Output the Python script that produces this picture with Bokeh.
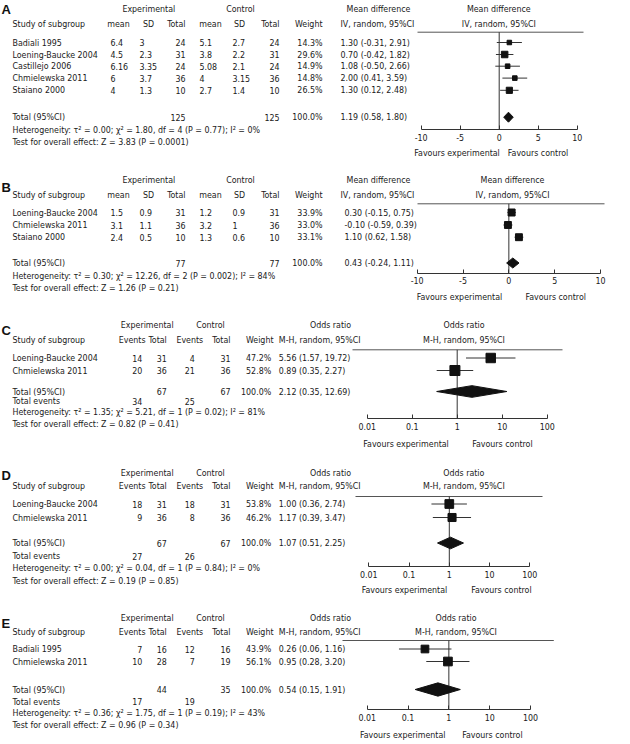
import math
from bokeh.plotting import figure
from bokeh.models import (Range1d, LinearAxis, LogAxis, LogScale, FixedTicker,
                          CustomJSTickFormatter, ColumnDataSource)
from bokeh.core.properties import value
from bokeh.embed import file_html
from bokeh.resources import INLINE

# ======================= DATA =======================
# Panel A - mean difference
A_studies = ["Badiali 1995", "Loening-Baucke 2004", "Castillejo 2006", "Chmielewska 2011", "Staiano 2000"]
A_exp_mean = [6.4, 4.5, 6.16, 6, 4]
A_exp_sd = [3, 2.3, 3.35, 3.7, 1.3]
A_exp_n = [24, 31, 24, 36, 10]
A_ctl_mean = [5.1, 3.8, 5.08, 4, 2.7]
A_ctl_sd = [2.7, 2.2, 2.1, 3.15, 1.4]
A_ctl_n = [24, 31, 24, 36, 10]
A_weight = [14.3, 29.6, 14.9, 14.8, 26.5]
A_est = [1.30, 0.70, 1.08, 2.00, 1.30]
A_lo = [-0.31, -0.42, -0.50, 0.41, 0.12]
A_hi = [2.91, 1.82, 2.66, 3.59, 2.48]
A_total = [1.19, 0.58, 1.80]
A_het = "Heterogeneity: τ² = 0.00; χ² = 1.80, df = 4 (P = 0.77); I² = 0%"
A_test = "Test for overall effect: Z = 3.83 (P = 0.0001)"

# Panel B - mean difference
B_studies = ["Loening-Baucke 2004", "Chmielewska 2011", "Staiano 2000"]
B_exp_mean = [1.5, 3.1, 2.4]
B_exp_sd = [0.9, 1.1, 0.5]
B_exp_n = [31, 36, 10]
B_ctl_mean = [1.2, 3.2, 1.3]
B_ctl_sd = [0.9, 1, 0.6]
B_ctl_n = [31, 36, 10]
B_weight = [33.9, 33.0, 33.1]
B_est = [0.30, -0.10, 1.10]
B_lo = [-0.15, -0.59, 0.62]
B_hi = [0.75, 0.39, 1.58]
B_total = [0.43, -0.24, 1.11]
B_het = "Heterogeneity: τ² = 0.30; χ² = 12.26, df = 2 (P = 0.002); I² = 84%"
B_test = "Test for overall effect: Z = 1.26 (P = 0.21)"

MD_ticks = [-10, -5, 0, 5, 10]

# Panel C - odds ratio
C_studies = ["Loening-Baucke 2004", "Chmielewska 2011"]
C_exp_events = [14, 20]
C_exp_n = [31, 36]
C_ctl_events = [4, 21]
C_ctl_n = [31, 36]
C_weight = [47.2, 52.8]
C_est = [5.56, 0.89]
C_lo = [1.57, 0.35]
C_hi = [19.72, 2.27]
C_total = [2.12, 0.35, 12.69]
C_het = "Heterogeneity: τ² = 1.35; χ² = 5.21, df = 1 (P = 0.02); I² = 81%"
C_test = "Test for overall effect: Z = 0.82 (P = 0.41)"

# Panel D - odds ratio
D_studies = ["Loening-Baucke 2004", "Chmielewska 2011"]
D_exp_events = [18, 9]
D_exp_n = [31, 36]
D_ctl_events = [18, 8]
D_ctl_n = [31, 36]
D_weight = [53.8, 46.2]
D_est = [1.00, 1.17]
D_lo = [0.36, 0.39]
D_hi = [2.74, 3.47]
D_total = [1.07, 0.51, 2.25]
D_het = "Heterogeneity: τ² = 0.00; χ² = 0.04, df = 1 (P = 0.84); I² = 0%"
D_test = "Test for overall effect: Z = 0.19 (P = 0.85)"

# Panel E - odds ratio
E_studies = ["Badiali 1995", "Chmielewska 2011"]
E_exp_events = [7, 10]
E_exp_n = [16, 28]
E_ctl_events = [12, 7]
E_ctl_n = [16, 19]
E_weight = [43.9, 56.1]
E_est = [0.26, 0.95]
E_lo = [0.06, 0.28]
E_hi = [1.16, 3.20]
E_total = [0.54, 0.15, 1.91]
E_het = "Heterogeneity: τ² = 0.36; χ² = 1.75, df = 1 (P = 0.19); I² = 43%"
E_test = "Test for overall effect: Z = 0.96 (P = 0.34)"

OR_ticks = [0.01, 0.1, 1, 10, 100]
TOTAL_WEIGHT = 100.0

# ======================= STYLE / LAYOUT =======================
FONT_NAME = "DejaVu Sans Condensed"
FONT = value(FONT_NAME)
FS = "8.8px"
INK = "#1a1a1a"
LINE = "#333333"

W, H = 630, 744
X0, X1 = 0, W          # layout frame in pixels (horizontal)
Y_TOP, Y_BOT = 0, H    # layout frame in pixels (vertical)

p = figure(width=W, height=H, output_backend="svg", toolbar_location=None,
           x_range=Range1d(X0, X1), y_range=Range1d(Y_BOT, Y_TOP),
           x_axis_type=None, y_axis_type=None, min_border=0,
           outline_line_color=None, background_fill_color="white",
           border_fill_color="white")

groups = {}


def put(x, y, s, align="left", kind="body"):
    g = groups.setdefault((align, kind), {"x": [], "y": [], "t": []})
    g["x"].append(x)
    g["y"].append(y)
    g["t"].append(str(s))


def add_range(name, lo, hi, px_lo, px_hi, log):
    a, b = (math.log10(lo), math.log10(hi)) if log else (lo, hi)
    k = (b - a) / (px_hi - px_lo)
    s = a - (px_lo - X0) * k
    e = a + (X1 - px_lo) * k
    if log:
        s, e = 10 ** s, 10 ** e
        p.extra_x_scales[name] = LogScale()
    p.extra_x_ranges[name] = Range1d(s, e)


def ci_txt(e, l, h):
    return f"{e:.2f} ({l:.2f}, {h:.2f})"


def forest(name, L, rows, weights, est, lo, hi, total, ticks, log, null):
    add_range(name, ticks[0], ticks[-1], L["px"][0], L["px"][1], log)
    # header rule and null line
    p.segment(x0=[L["rule_x"][0]], x1=[L["rule_x"][1]], y0=[L["rule_y"]], y1=[L["rule_y"]],
              line_color="#555555", line_width=1)
    p.segment(x0=[null], x1=[null], y0=[L["rule_y"]], y1=[L["axis_y"]],
              x_range_name=name, line_color=LINE, line_width=1)
    # CIs
    p.segment(x0=lo, x1=hi, y0=rows, y1=rows, x_range_name=name,
              line_color=LINE, line_width=1)
    wmax = max(weights)
    sizes = [L["sq"] * math.sqrt(w / wmax) for w in weights]
    p.scatter(x=est, y=rows, size=sizes, marker="square", x_range_name=name,
              fill_color="#111111", line_color="#111111")
    t, tl, th = total
    ty, h = L["total_y"], L["dia_h"]
    p.patch(x=[tl, t, th, t], y=[ty, ty - h / 2, ty, ty + h / 2], x_range_name=name,
            fill_color="#111111", line_color="#111111")
    # axis
    Ax = LogAxis if log else LinearAxis
    ax = Ax(x_range_name=name, fixed_location=L["axis_y"], ticker=FixedTicker(ticks=ticks),
            bounds=(ticks[0], ticks[-1]))
    ax.formatter = CustomJSTickFormatter(code="return String(tick)")
    ax.major_tick_in = 4
    ax.major_tick_out = 0
    ax.minor_tick_line_color = None
    ax.axis_line_color = LINE
    ax.major_tick_line_color = LINE
    ax.major_label_text_font = FONT_NAME
    ax.major_label_text_font_size = FS
    ax.major_label_text_color = INK
    ax.major_label_standoff = 4
    p.add_layout(ax, "below")
    put(L["fav"][1], L["fav"][0], "Favours experimental", "right")
    put(L["fav"][2], L["fav"][0], "Favours control", "left")


# column positions
MDC = dict(study=12, em=110, em_h=118, esd=139, esd_h=148, en=185, cm=199, cm_h=210,
           csd=232, csd_h=239, cn=279, w=322, exp_h=148.3, ctl_h=240, eff_h=378, iv=340)
ORC = dict(study=12, ee=141.7, ee_h=131.7, en=166.3, ce=194.3, ce_h=189.3, cn=230,
           w=270.7, w_h=273, exp_h=146.7, ctl_h=210, eff_h=330, mh=278.3)


def md_panel(name, L, studies, em, esd, en, cm, csd, cn, w, est, lo, hi, total, het, test):
    c = MDC
    put(L["letter"][0], L["letter"][1], name, "left", "letter")
    h1, h2 = L["h1"], L["h2"]
    put(c["exp_h"], h1, "Experimental", "center")
    put(c["ctl_h"], h1, "Control", "center")
    put(c["eff_h"], h1, "Mean difference", "center")
    put(L["plot_h"], h1, "Mean difference", "center")
    put(c["study"], h2, "Study of subgroup")
    put(c["em_h"], h2, "mean", "center")
    put(c["esd_h"], h2, "SD", "center")
    put(c["en"], h2, "Total", "right")
    put(c["cm_h"], h2, "mean", "center")
    put(c["csd_h"], h2, "SD", "center")
    put(c["cn"], h2, "Total", "right")
    put(c["w"], h2, "Weight", "right")
    put(c["iv"], h2, "IV, random, 95%CI")
    put(L["plot_h"], h2, "IV, random, 95%CI", "center")
    rows = L["rows"]
    for i, y in enumerate(rows):
        put(c["study"], y, studies[i])
        put(c["em"], y, em[i])
        put(c["esd"], y, esd[i])
        put(c["en"], y, en[i], "right")
        put(c["cm"], y, cm[i])
        put(c["csd"], y, csd[i])
        put(c["cn"], y, cn[i], "right")
        put(c["w"], y, f"{w[i]:.1f}%", "right")
        put(L["ci_x"], y, ci_txt(est[i], lo[i], hi[i]))
    ty = L["total_y"]
    put(c["study"], ty, "Total (95%CI)")
    put(c["en"], ty, sum(en), "right")
    put(c["cn"], ty, sum(cn), "right")
    put(c["w"], ty, f"{TOTAL_WEIGHT:.1f}%", "right")
    put(L["ci_x"], ty, ci_txt(*total))
    put(c["study"], L["het"], het)
    put(c["study"], L["test"], test)
    forest(name, L, rows, w, est, lo, hi, total, MD_ticks, False, 0)


def or_panel(name, L, studies, ee, en, ce, cn, w, est, lo, hi, total, het, test):
    c = ORC
    put(L["letter"][0], L["letter"][1], name, "left", "letter")
    h1, h2 = L["h1"], L["h2"]
    put(c["exp_h"], h1, "Experimental", "center")
    put(c["ctl_h"], h1, "Control", "center")
    put(c["eff_h"], h1, "Odds ratio", "center")
    put(L["plot_h"], h1, "Odds ratio", "center")
    put(c["study"], h2, "Study of subgroup")
    put(c["ee_h"], h2, "Events", "center")
    put(c["en"], h2, "Total", "right")
    put(c["ce_h"], h2, "Events", "center")
    put(c["cn"], h2, "Total", "right")
    put(c["w_h"], h2, "Weight", "right")
    put(c["mh"], h2, "M-H, random, 95%CI")
    put(L["plot_h"], h2, "M-H, random, 95%CI", "center")
    rows = L["rows"]
    for i, y in enumerate(rows):
        put(c["study"], y, studies[i])
        put(c["ee"], y, ee[i], "right")
        put(c["en"], y, en[i], "right")
        put(c["ce"], y, ce[i], "right")
        put(c["cn"], y, cn[i], "right")
        put(c["w"], y, f"{w[i]:.1f}%", "right")
        put(c["mh"], y, ci_txt(est[i], lo[i], hi[i]))
    ty = L["total_y"]
    put(c["study"], ty, "Total (95%CI)")
    put(c["en"], ty, sum(en), "right")
    put(c["cn"], ty, sum(cn), "right")
    put(c["w"], ty, f"{TOTAL_WEIGHT:.1f}%", "right")
    put(c["mh"], ty, ci_txt(*total))
    put(c["study"], L["ev"], "Total events")
    put(c["ee"], L["ev"], sum(ee), "right")
    put(c["ce"], L["ev"], sum(ce), "right")
    put(c["study"], L["het"], het)
    put(c["study"], L["test"], test)
    forest(name, L, rows, w, est, lo, hi, total, OR_ticks, True, 1)


LA = dict(letter=(1, 8.5), h1=8.5, h2=23, rows=[42, 54, 65.7, 77.6, 89.8], total_y=116.7,
          het=129.3, test=141.7, rule_y=31.7, rule_x=(417, 583), axis_y=129.3,
          px=(420.7, 576.7), fav=(152.3, 499.3, 507.3), plot_h=498.3, ci_x=340,
          sq=6.5, dia_h=10)
LB = dict(letter=(1, 186.7), h1=179.3, h2=194.3, rows=[212, 224.5, 236.7], total_y=262.5,
          het=275.7, test=287.3, rule_y=203.3, rule_x=(417, 604), axis_y=272.7,
          px=(416.7, 600), fav=(296.7, 501.7, 525), plot_h=512, ci_x=344,
          sq=7, dia_h=10)
LC = dict(letter=(1, 330), h1=324.3, h2=339.3, rows=[357.5, 370], total_y=391, ev=400.5,
          het=411.7, test=423.3, rule_y=349.3, rule_x=(352, 562), axis_y=418.3,
          px=(366.7, 546.7), fav=(443.3, 448.3, 471.7), plot_h=463.5, sq=10, dia_h=11.7)
LD = dict(letter=(1, 475), h1=472.7, h2=485.5, rows=[503.5, 517], total_y=542.5, ev=555.7,
          het=567.3, test=580, rule_y=496, rule_x=(355, 542), axis_y=566,
          px=(368.3, 529.3), fav=(589.5, 446.7, 470.7), plot_h=463.3, sq=8.7, dia_h=11.7)
LE = dict(letter=(1, 623.3), h1=617.3, h2=631.7, rows=[648.5, 661], total_y=689, ev=701,
          het=712.5, test=724.5, rule_y=640, rule_x=(342, 553.3), axis_y=709.3,
          px=(366.7, 530), fav=(734, 445, 461.7), plot_h=455.5, sq=8.7, dia_h=13.3)

md_panel("A", LA, A_studies, A_exp_mean, A_exp_sd, A_exp_n, A_ctl_mean, A_ctl_sd, A_ctl_n,
         A_weight, A_est, A_lo, A_hi, A_total, A_het, A_test)
md_panel("B", LB, B_studies, B_exp_mean, B_exp_sd, B_exp_n, B_ctl_mean, B_ctl_sd, B_ctl_n,
         B_weight, B_est, B_lo, B_hi, B_total, B_het, B_test)
or_panel("C", LC, C_studies, C_exp_events, C_exp_n, C_ctl_events, C_ctl_n, C_weight,
         C_est, C_lo, C_hi, C_total, C_het, C_test)
or_panel("D", LD, D_studies, D_exp_events, D_exp_n, D_ctl_events, D_ctl_n, D_weight,
         D_est, D_lo, D_hi, D_total, D_het, D_test)
or_panel("E", LE, E_studies, E_exp_events, E_exp_n, E_ctl_events, E_ctl_n, E_weight,
         E_est, E_lo, E_hi, E_total, E_het, E_test)

for (align, kind), g in groups.items():
    src = ColumnDataSource(dict(x=g["x"], y=g["y"], t=g["t"]))
    if kind == "letter":
        p.text(x="x", y="y", text="t", source=src, text_align=align, text_baseline="middle",
               text_font=value("Liberation Sans"), text_font_size="13px",
               text_font_style="bold", text_color="#111111")
    else:
        p.text(x="x", y="y", text="t", source=src, text_align=align, text_baseline="middle",
               text_font=FONT, text_font_size=FS, text_color=INK)

open("out.html", "w").write(file_html(p, INLINE))
